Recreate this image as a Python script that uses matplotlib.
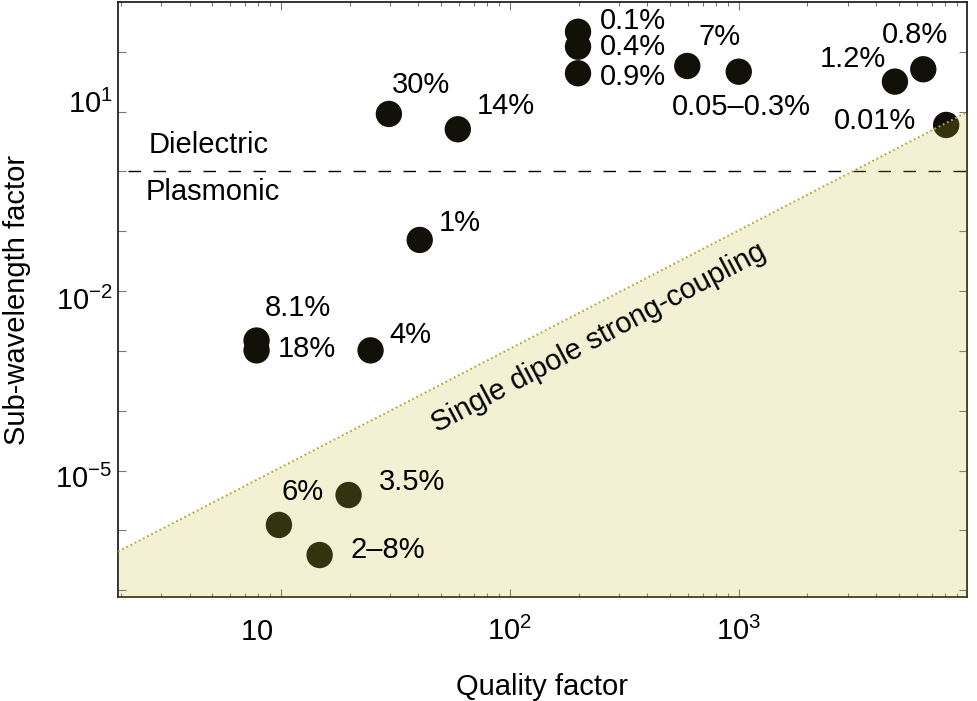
import numpy as np
import matplotlib
matplotlib.use('Agg')
import matplotlib.pyplot as plt
import matplotlib.transforms as mtransforms
from matplotlib.ticker import FixedLocator, FixedFormatter, NullLocator, NullFormatter

plt.rcParams['font.family'] = ['Liberation Sans', 'DejaVu Sans']
plt.rcParams['mathtext.fontset'] = 'custom'
plt.rcParams['mathtext.rm'] = 'Liberation Sans'
plt.rcParams['mathtext.it'] = 'Liberation Sans:italic'
plt.rcParams['mathtext.bf'] = 'Liberation Sans:bold'

# values
labels = ['8.1%', '18%', '4%', '1%', '30%', '14%', '0.1%', '0.4%', '0.9%',
          '7%', '0.05\u20130.3%', '1.2%', '0.8%', '0.01%', '6%', '3.5%', '2\u20138%']
quality = [7.85, 7.85, 24.7, 40.5, 29.7, 59.4, 199, 199, 199,
           597, 1002, 4820, 6410, 8070, 9.83, 19.8, 14.8]
subwl = [1.49e-3, 1.02e-3, 1.02e-3, 0.0716, 9.16, 5.08, 217, 122, 43.9,
         58.1, 46.6, 31.8, 51.2, 6.0, 1.23e-6, 3.89e-6, 3.86e-7]

# label offsets (points) from each marker
offsets = [(29.5, 23.4), (36, 1.1), (28.8, 10.8), (28.6, 12.2), (22.8, 20.9),
           (34.3, 16.8), (39.4, 7.8), (39.4, 0.1), (39.4, -2.7), (23.3, 20.9),
           (1.9, -25.4), (-30.5, 16.3), (-6.3, 24.7), (-50.9, 2.9),
           (17.1, 23.8), (45.6, 9.4), (49, 3.6)]

# single dipole strong-coupling boundary
bound_q = [1.948, 9950]
bound_s = [4.4e-7, 9.8]

# dielectric / plasmonic divide
divide_q = [2.15, 11070]
divide_s = [1, 1]

xlim = (1.948, 9950)
ylim = (7.67e-8, 682)

fig = plt.figure(figsize=(9.77, 7.01), dpi=100)
ax = fig.add_axes([118/977, 104/701, 849/977, 595/701])
ax.set_xscale('log')
ax.set_yscale('log')
ax.set_xlim(*xlim)
ax.set_ylim(*ylim)

ax.scatter(quality, subwl, s=360, color='#121109', edgecolors='none', zorder=3)
ax.fill_between(bound_q, bound_s, ylim[0] / 2, color=(195/255, 185/255, 40/255),
                alpha=0.2, lw=0, zorder=4)
ax.plot(bound_q, bound_s, color='#b5ae22', lw=1.4, ls=(0, (1.0, 1.4)), zorder=5)
ax.plot(divide_q, divide_s, color='black', lw=1.0, ls=(0, (9, 9)), clip_on=False, zorder=2)

for lab, q, s, off in zip(labels, quality, subwl, offsets):
    ax.annotate(lab, (q, s), xytext=off, textcoords='offset points',
                ha='center', va='center', fontsize=21, zorder=6)

ax.text(4.85, 2.77, 'Dielectric', fontsize=21, ha='center', va='center')
ax.text(5.05, 0.454, 'Plasmonic', fontsize=21, ha='center', va='center')
ax.text(245, 1.64e-3, 'Single dipole strong-coupling', fontsize=21,
        rotation=28, rotation_mode='anchor', ha='center', va='center', zorder=6)

# ticks
ax.xaxis.set_major_locator(FixedLocator([10, 100, 1000]))
ax.xaxis.set_major_formatter(FixedFormatter([r'$\mathregular{10}$',
                                             r'$\mathregular{10^2}$',
                                             r'$\mathregular{10^3}$']))
minor_x = [m * 10.0**d for d in range(0, 4) for m in range(2, 10)]
ax.xaxis.set_minor_locator(FixedLocator(minor_x))
ax.xaxis.set_minor_formatter(NullFormatter())

ydec = [10.0**k for k in range(-7, 3)]
ylab = {1: r'$\mathregular{10^1}$', -2: r'$\mathregular{10^{-2}}$', -5: r'$\mathregular{10^{-5}}$'}
ax.yaxis.set_major_locator(FixedLocator(ydec))
ax.yaxis.set_major_formatter(FixedFormatter([ylab.get(k, '') for k in range(-7, 3)]))
ax.yaxis.set_minor_locator(NullLocator())

ax.tick_params(which='both', direction='in', top=True, right=True,
               color='#777777', width=0.8, labelcolor='black')
ax.tick_params(which='major', length=5.8)
ax.tick_params(which='minor', length=3.0)
ax.tick_params(axis='x', labelsize=21, pad=31)
ax.tick_params(axis='y', labelsize=21, pad=4)

for sp in ax.spines.values():
    sp.set_linewidth(1.3)
    sp.set_color('#222222')

ax.set_xlabel('Quality factor', fontsize=21)
ax.xaxis.set_label_coords(0.5, -0.128)
ax.set_ylabel('Sub-wavelength factor', fontsize=21)
ax.yaxis.set_label_coords(-0.102, 0.5)

# label nudges to mimic the original placement
xlabs = ax.get_xticklabels()
for lab in xlabs:
    lab.set_verticalalignment('baseline')
xlabs[0].set_transform(xlabs[0].get_transform() +
                       mtransforms.ScaledTranslation(-0.24, 0, fig.dpi_scale_trans))

ynudge = {1: 0.10, -2: -0.075, -5: -0.06}
for k, lab in zip(range(-7, 3), ax.get_yticklabels()):
    if k in ynudge:
        lab.set_transform(lab.get_transform() +
                          mtransforms.ScaledTranslation(0, ynudge[k], fig.dpi_scale_trans))

fig.savefig('out.png', dpi=100)
